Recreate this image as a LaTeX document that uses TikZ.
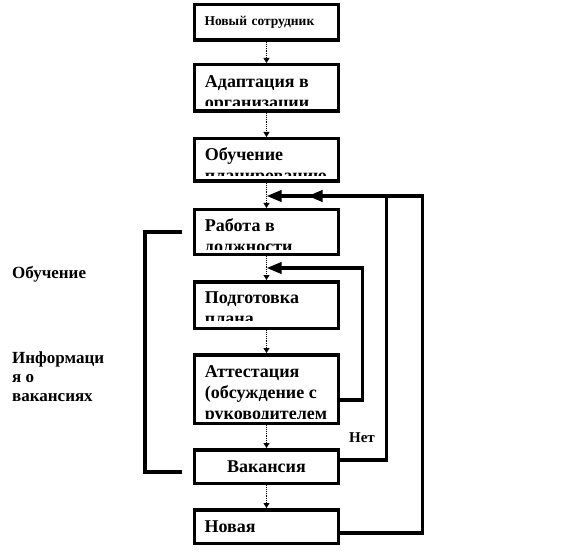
\documentclass[tikz,border=0pt]{standalone}
\usepackage{fontspec}
\setmainfont{Liberation Serif}
\usetikzlibrary{arrows.meta,positioning,calc}

\begin{document}
\begin{tikzpicture}[
  x=1pt, y=-1pt,
  txt/.style={font=\bfseries\fontsize{18}{21}\selectfont, align=left, inner sep=0pt},
  box/.style={draw, line width=3.5pt, fill=white, minimum width=144pt, inner sep=0pt},
  boxtext/.style={box, txt, text width=124pt, inner xsep=10pt},
  flow/.style={densely dotted, line width=0.9pt, -{Triangle[length=5pt, width=6pt]}},
  feedback/.style={line width=3.5pt, -{Triangle[length=15pt, width=11pt]}},
  lbl/.style={font=\bfseries\fontsize{17}{19}\selectfont, align=left, inner sep=0pt}
]
\useasboundingbox (0,0) rectangle (578,556);

% main column
\node[boxtext, font=\bfseries\fontsize{13.5}{16}\selectfont, minimum height=35.5pt] (newemp) at (266.5,22.5) {Новый сотрудник};
\node[box, minimum height=46.5pt, below=21pt of newemp] (adapt) {};
\node[box, minimum height=42.5pt, below=24pt of adapt] (study) {};
\node[box, minimum height=44.5pt, below=25pt of study] (work) {};
\node[box, minimum height=46.5pt, below=24pt of work] (plan) {};
\node[box, minimum height=68.5pt, below=23pt of plan] (appr) {};
\node[boxtext, align=center, minimum height=33.5pt, below=23pt of appr] (vac) {Вакансия};
\node[boxtext, minimum height=33.5pt, below=23pt of vac] (newpos) {Новая};

% texts cut off by the box edge
\foreach \b/\o/\c/\t in {adapt/12/7/{Адаптация в\\организации}, study/10/7/{Обучение\\планированию},
    work/10/7/{Работа в\\должности}, plan/12/10/{Подготовка\\плана},
    appr/12/7/{Аттестация\\(обсуждение с\\руководителем}} {
  \begin{scope}
    \clip ([shift={(3.5pt,\c pt)}]\b.south west) rectangle ([shift={(-3.5pt,-3.5pt)}]\b.north east);
    \node[txt, anchor=north west] (\b-text) at ([shift={(12pt,-\o pt)}]\b.north west) {\t};
  \end{scope}
}

\draw[flow] (newemp) -- (adapt);
\draw[flow] (adapt) -- (study);
\draw[flow] (study) -- (work);
\draw[flow] (work) -- (plan);
\draw[flow] (plan) -- (appr);
\draw[flow] (appr) -- (vac);
\draw[flow] (vac) -- (newpos);

% where the loops come back in
\coordinate (in1) at ($(study.south)!0.52!(work.north)$);
\coordinate (in1b) at ([xshift=41pt]in1);
\coordinate (in2) at ($(work.south)!0.5!(plan.north)$);

\draw[feedback] ([yshift=-11pt]appr.east) -- ++(22pt,0) |- (in2);
\draw[feedback] ([yshift=6.5pt]vac.east) -- ++(46pt,0) |- (in1);
\draw[feedback] ([yshift=-6.5pt]newpos.east) -- ++(82pt,0) |- (in1b);
\draw[feedback, -] ([shift={(-11pt,-5.5pt)}]vac.west) -- ++(-37pt,0) |- ([xshift=-11pt]work.west);

% side labels
\node[lbl, font=\bfseries\fontsize{15}{17}\selectfont] (nolbl) at (362,438) {Нет};
\node[lbl, anchor=north west] (learnlbl) at (12,266) {Обучение};
\node[lbl, anchor=north west] (infolbl) at (12,352) {Информаци\\я о\\вакансиях};
\end{tikzpicture}
\end{document}
